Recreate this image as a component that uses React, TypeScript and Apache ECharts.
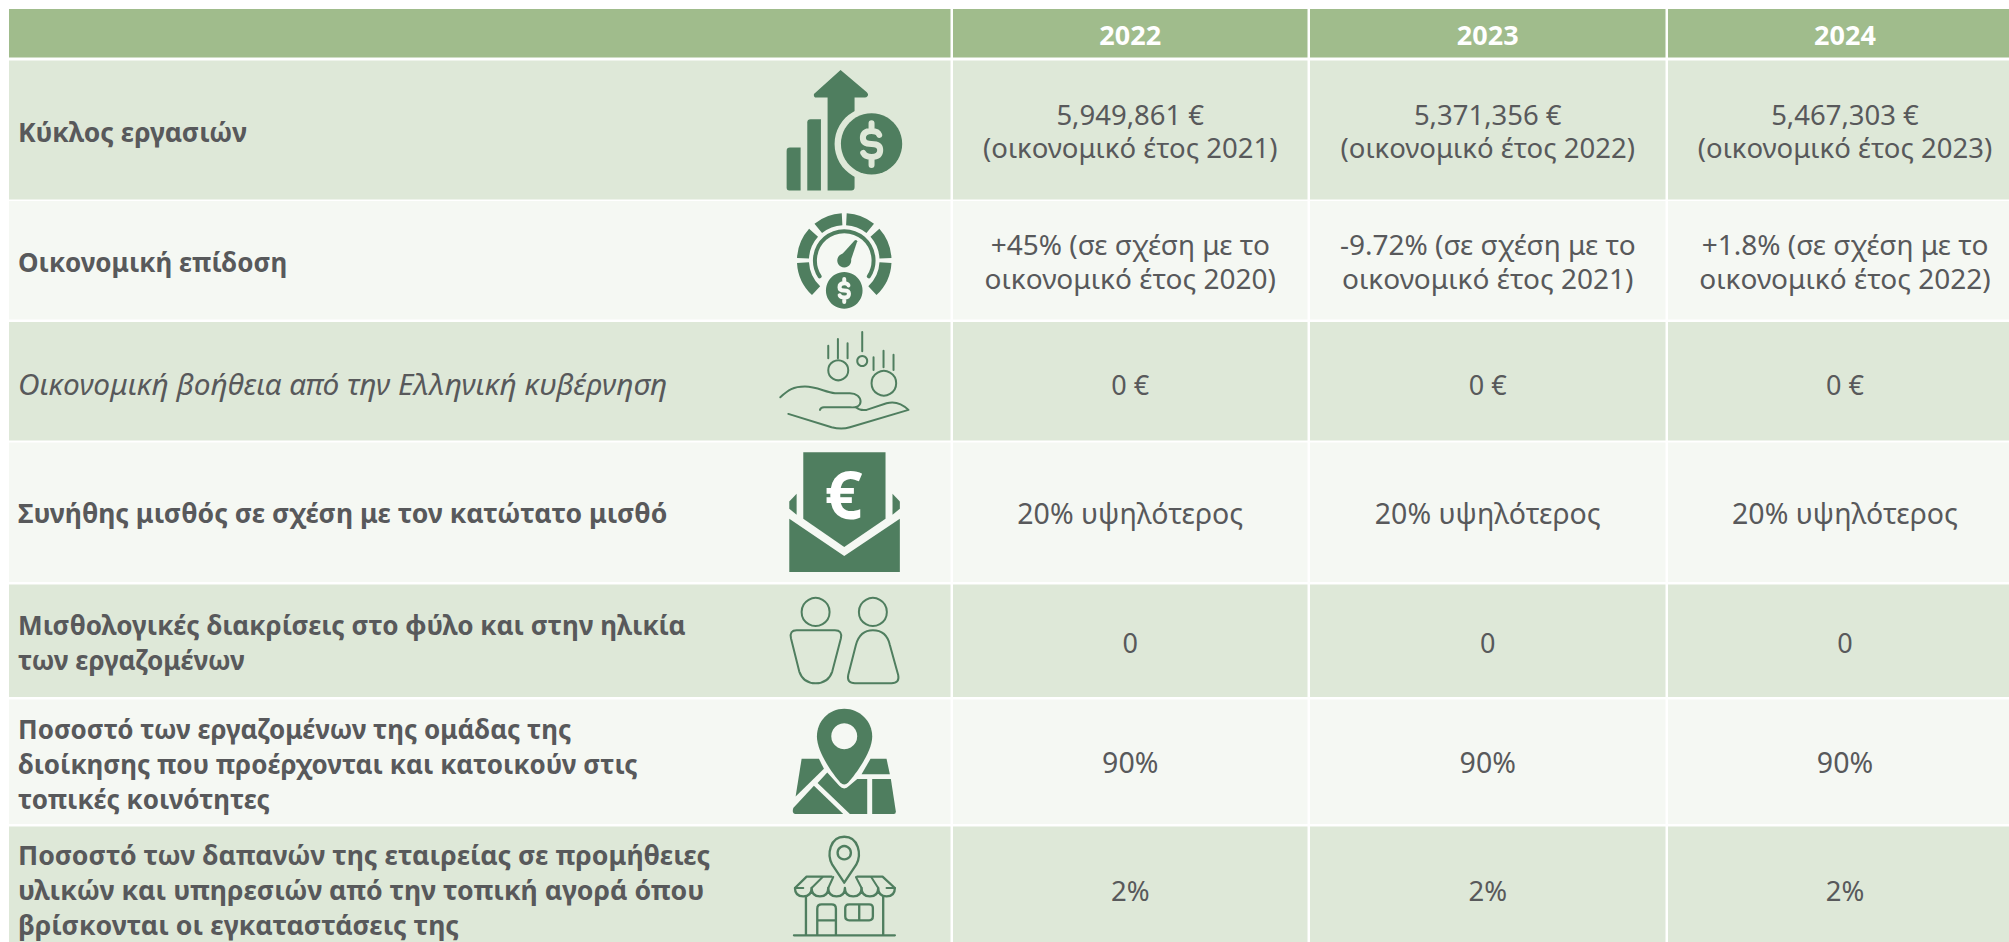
import React, { useEffect, useRef } from "react";
import * as echarts from "echarts";

const years = ["2022", "2023", "2024"];
const rowLabels = [
  "Κύκλος εργασιών",
  "Οικονομική επίδοση",
  "Οικονομική βοήθεια από την Ελληνική κυβέρνηση",
  "Συνήθης μισθός σε σχέση με τον κατώτατο μισθό",
  "Μισθολογικές διακρίσεις στο φύλο και στην ηλικία\nτων εργαζομένων",
  "Ποσοστό των εργαζομένων της ομάδας της\nδιοίκησης που προέρχονται και κατοικούν στις\nτοπικές κοινότητες",
  "Ποσοστό των δαπανών της εταιρείας σε προμήθειες\nυλικών και υπηρεσιών από την τοπική αγορά όπου\nβρίσκονται οι εγκαταστάσεις της",
];
const values2022 = ["5,949,861 €\n(οικονομικό έτος 2021)", "+45% (σε σχέση με το\nοικονομικό έτος 2020)", "0 €", "20% υψηλότερος", "0", "90%", "2%"];
const values2023 = ["5,371,356 €\n(οικονομικό έτος 2022)", "-9.72% (σε σχέση με το\nοικονομικό έτος 2021)", "0 €", "20% υψηλότερος", "0", "90%", "2%"];
const values2024 = ["5,467,303 €\n(οικονομικό έτος 2023)", "+1.8% (σε σχέση με το\nοικονομικό έτος 2022)", "0 €", "20% υψηλότερος", "0", "90%", "2%"];
const valueColumns = [values2022, values2023, values2024];

const HEADER = "#A0BC8C";
const ODD = "#DEE8D8";
const EVEN = "#F5F8F3";
const ICON = "#4F7E5F";
const TEXT = "#58595B";
const FONT = "'Noto Sans'";

const colEdges: [number, number][] = [[9, 950.5], [953, 1307.5], [1310, 1665.5], [1668, 2022]];
const rowEdges: [number, number][] = [[60.5, 199.5], [201, 319.5], [322, 440.5], [442.5, 582], [584.5, 697], [699.5, 824], [826.5, 960]];
const labelCenters = [132, 262, 383, 513, 642, 764, 889];
const valueCenters = [131, 261, 384, 512.5, 642, 762, 890];
const valueSizes = [27.5, 28, 27, 28.5, 27, 28.5, 27.5];
const valueLineHeights = [33, 34.5, 33, 33, 33, 33, 33];
const labelSizes = [26.5, 26, 29.8, 26.6, 26.1, 26, 26.7];

let pathCount = 0;
function shape(d: string, style: any) {
  const name = "iconPath" + pathCount++;
  echarts.graphic.registerShape(name, echarts.graphic.extendPath(d, {}));
  return { type: name, style };
}
const fill = (c = ICON) => ({ fill: c, stroke: null });
const line = (lineWidth: number, c = ICON) => ({ fill: "none", stroke: c, lineWidth, lineCap: "round", lineJoin: "round" });
const circle = (cx: number, cy: number, r: number, style: any) => ({ type: "circle", shape: { cx, cy, r }, style });
const rad = (d: number) => (d * Math.PI) / 180;
const arc = (cx: number, cy: number, r: number, a0: number, a1: number, style: any) => ({
  type: "arc",
  shape: { cx, cy, r, startAngle: rad(a0), endAngle: rad(a1), clockwise: true },
  style,
});

const dollar = (cx: number, cy: number, k: number, bg: string, w: number) => {
  const d = [
    `M${cx + 23 * k} ${cy - 27 * k}`,
    `Q${cx + 19 * k} ${cy - 39 * k} ${cx} ${cy - 39 * k}`,
    `Q${cx - 26 * k} ${cy - 39 * k} ${cx - 26 * k} ${cy - 18 * k}`,
    `Q${cx - 26 * k} ${cy} ${cx} ${cy}`,
    `Q${cx + 26 * k} ${cy} ${cx + 26 * k} ${cy + 18 * k}`,
    `Q${cx + 26 * k} ${cy + 39 * k} ${cx} ${cy + 39 * k}`,
    `Q${cx - 19 * k} ${cy + 39 * k} ${cx - 25 * k} ${cy + 27 * k}`,
    `M${cx} ${cy - 62 * k} L${cx} ${cy - 39 * k}`,
    `M${cx} ${cy + 39 * k} L${cx} ${cy + 63 * k}`,
  ].join(" ");
  return shape(d, line(w, bg));
};

const iconRevenue = [
  shape("M110 303 Q110 293 120 293 L152 293 L152 422 L118 422 Q110 422 110 414 Z", fill()),
  shape("M172 218 Q172 208 182 208 L213 208 L213 422 L172 422 Z", fill()),
  shape("M272 60 L350 126 Q358 134 352 140 Q350 143 345 143 L314 143 L314 412 Q314 422 304 422 L233 422 L233 143 L200 143 Q190 143 192 132 Z", fill()),
  circle(365, 282, 111, fill(ODD)),
  circle(365, 282, 92, fill()),
  dollar(365, 282, 1, ODD, 18),
];

const gaugeSegments = [[231, 267], [273, 309], [183, 222], [318, 357], [3, 47], [133, 177]];
const iconGauge = [
  ...gaugeSegments.map(([a, b]) => arc(283, 632, 124, a, b, { fill: "none", stroke: ICON, lineWidth: 36 })),
  arc(283, 632, 88, 147, 393, line(12)),
  circle(283, 632, 21, fill()),
  shape("M266 625 L314 572 Q319 568 322 574 L300 640 Z", fill()),
  circle(283, 722, 62, fill(EVEN)),
  circle(283, 722, 55, fill()),
  dollar(283, 722, 0.55, EVEN, 12),
];

const iconAid = [
  shape("M235 77 L235 115 M264 57 L264 115 M293 70 L293 115 M337 36 L337 94 M371 112 L371 150 M401 92 L401 142 M431 104 L431 150", line(6)),
  circle(265, 151, 30, line(6)),
  circle(337, 123, 15, line(6)),
  circle(402, 190, 37, line(6)),
  shape("M91 232 C115 210 130 200 165 200 C200 200 225 216 255 220 L300 220 C320 220 332 232 332 245 C332 258 320 264 300 262 L222 262 Q212 263 210 270", line(6)),
  shape("M318 262 Q330 273 350 270 L410 250 Q445 240 476 270 L300 322 Q275 330 245 322 L115 282", line(6)),
];

const iconEnvelope = [
  shape("M160 397 L407 397 L407 597 L283 682 L160 597 Z", fill()),
  shape("M118 545 L140 522 L140 585 L118 567 Z", fill()),
  shape("M428 522 L450 545 L450 567 L428 585 Z", fill()),
  shape("M118 597 L283 709 L450 597 L450 757 L118 757 Z", fill()),
  {
    type: "text",
    style: { x: 281, y: 522, text: "€", fill: "#FFFFFF", font: `bold 200px ${FONT}`, align: "center", verticalAlign: "middle" },
  },
];

const iconPeople = [
  circle(197, 126, 42, line(6)),
  circle(369, 126, 42, line(6)),
  shape("M140 181 L255 181 Q278 181 273 205 L247 305 Q235 340 197 340 Q160 340 148 305 L123 205 Q118 181 140 181 Z", line(6)),
  shape("M369 181 Q410 181 420 225 L445 315 Q450 340 425 340 L315 340 Q290 340 295 315 L318 225 Q330 181 369 181 Z", line(6)),
];

const iconMap = [
  shape("M283 417 C330 417 367 455 367 500 C367 545 320 610 295 638 Q283 650 271 638 C246 610 201 545 201 500 C201 455 236 417 283 417 Z", fill()),
  circle(283, 499, 39, fill(EVEN)),
  shape("M155 567 L207 567 L222 597 L137 680 Z", fill()),
  shape("M232 608 L268 648 Q283 664 298 648 L322 628 L352 628 L352 733 L300 733 L203 640 Z", fill()),
  shape("M192 648 L280 733 L135 733 Q125 730 130 715 Z", fill()),
  shape("M362 567 L410 567 L420 613 L335 613 Z", fill()),
  shape("M367 628 L423 628 L438 725 Q438 733 432 733 L367 733 Z", fill()),
];

const iconShop = [
  shape("M283 939 L247 885 C230 855 240 801 283 801 C326 801 336 855 319 885 Z", line(7)),
  circle(283, 849, 20, line(7)),
  shape("M245 921 L170 921 L135 955 Q135 980 160 980 Q185 980 185 955 Q185 980 210 980 Q235 980 235 955 Q235 980 260 980 Q285 980 285 955 Q285 980 310 980 Q335 980 335 955 Q335 980 360 980 Q385 980 385 955 Q385 980 410 980 Q435 980 435 955 L398 921 L322 921", line(7)),
  shape("M135 955 L160 955 M218 922 L185 955 M250 922 L235 955 M318 922 L335 955 M364 922 L385 955 M410 955 L435 955", line(6)),
  shape("M168 980 L168 1095 M400 980 L400 1095 M132 1097 L435 1097", line(7)),
  shape("M202 1095 L202 1017 Q202 1004 215 1004 L245 1004 Q258 1004 258 1017 L258 1095 M202 1052 L258 1052", line(7)),
  shape("M298 1004 L358 1004 Q369 1004 369 1015 L369 1040 Q369 1052 358 1052 L298 1052 Q286 1052 286 1040 L286 1015 Q286 1004 298 1004 Z M328 1004 L328 1052", line(7)),
];

const iconGroups: { y: number; children: any[] }[] = [
  { y: 50, children: iconRevenue },
  { y: 50, children: iconGauge },
  { y: 320, children: iconAid },
  { y: 320, children: iconEnvelope },
  { y: 570, children: iconPeople },
  { y: 570, children: iconMap },
  { y: 570, children: iconShop },
];

function buildGraphics() {
  const els: any[] = [];
  colEdges.forEach(([x0, x1], c) => {
    els.push({ type: "rect", shape: { x: x0, y: 9, width: x1 - x0, height: 48.5 }, style: { fill: HEADER } });
    if (c > 0) {
      els.push({
        type: "text",
        style: { x: (x0 + x1) / 2, y: 34.5, text: years[c - 1], fill: "#FFFFFF", font: `bold 27px ${FONT}`, align: "center", verticalAlign: "middle" },
      });
    }
    rowEdges.forEach(([y0, y1], r) => {
      els.push({ type: "rect", shape: { x: x0, y: y0, width: x1 - x0, height: y1 - y0 }, style: { fill: r % 2 === 0 ? ODD : EVEN } });
    });
  });
  rowEdges.forEach((_, r) => {
    const italic = r === 2;
    els.push({
      type: "text",
      style: {
        x: 18,
        y: labelCenters[r],
        text: rowLabels[r],
        fill: TEXT,
        font: `${italic ? "italic" : "bold"} ${labelSizes[r]}px ${FONT}`,
        lineHeight: 35,
        align: "left",
        verticalAlign: "middle",
      },
    });
    valueColumns.forEach((col, c) => {
      const [x0, x1] = colEdges[c + 1];
      els.push({
        type: "text",
        style: {
          x: (x0 + x1) / 2,
          y: valueCenters[r],
          text: col[r],
          fill: TEXT,
          font: `${valueSizes[r]}px ${FONT}`,
          lineHeight: valueLineHeights[r],
          align: "center",
          verticalAlign: "middle",
        },
      });
    });
  });
  iconGroups.forEach((g) => {
    els.push({ type: "group", x: 750, y: g.y, scaleX: 1 / 3, scaleY: 1 / 3, children: g.children });
  });
  return els;
}

export default function App() {
  const ref = useRef<HTMLDivElement>(null);
  useEffect(() => {
    document.body.style.margin = "0";
    const chart = echarts.init(ref.current!, null, { renderer: "svg" });
    chart.setOption({
      animation: false,
      backgroundColor: "#FFFFFF",
      graphic: { elements: buildGraphics() },
    });
    return () => chart.dispose();
  }, []);
  return <div ref={ref} style={{ width: 2009, height: 942 }} />;
}
